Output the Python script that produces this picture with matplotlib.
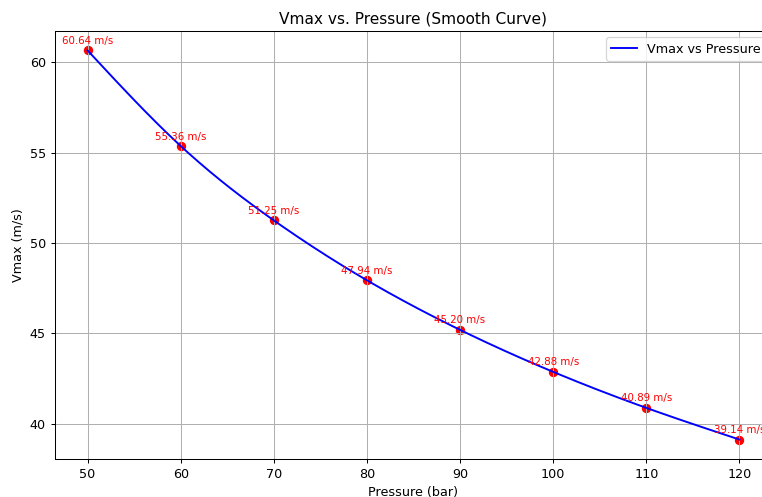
import matplotlib
matplotlib.use("Agg")
import matplotlib.pyplot as plt
import numpy as np

# 数据：压力 (bar) 与 Vmax (m/s)
pressure = [50, 60, 70, 80, 90, 100, 110, 120]
vmax = [60.64, 55.36, 51.25, 47.94, 45.20, 42.88, 40.89, 39.14]


def natural_spline(x, y, n=300):
    """自然三次样条，只用于画平滑曲线。"""
    x = np.asarray(x, dtype=float)
    y = np.asarray(y, dtype=float)
    m = len(x)
    h = np.diff(x)
    A = np.zeros((m, m))
    b = np.zeros(m)
    A[0, 0] = A[-1, -1] = 1.0
    for i in range(1, m - 1):
        A[i, i - 1] = h[i - 1]
        A[i, i] = 2 * (h[i - 1] + h[i])
        A[i, i + 1] = h[i]
        b[i] = 6 * ((y[i + 1] - y[i]) / h[i] - (y[i] - y[i - 1]) / h[i - 1])
    M = np.linalg.solve(A, b)
    xs = np.linspace(x[0], x[-1], n)
    idx = np.clip(np.searchsorted(x, xs) - 1, 0, m - 2)
    x0, x1 = x[idx], x[idx + 1]
    hh = x1 - x0
    t0, t1 = x1 - xs, xs - x0
    ys = (M[idx] * t0 ** 3 + M[idx + 1] * t1 ** 3) / (6 * hh) \
        + (y[idx] / hh - M[idx] * hh / 6) * t0 \
        + (y[idx + 1] / hh - M[idx + 1] * hh / 6) * t1
    return xs, ys


DPI = 92
fig = plt.figure(figsize=(763 / DPI, 497 / DPI), dpi=DPI)
ax = fig.add_axes([55 / 763, (497 - 459) / 497, (772 - 55) / 763, (459 - 31) / 497])

xs, ys = natural_spline(pressure, vmax)
ax.plot(xs, ys, color="blue", linewidth=1.5, label="Vmax vs Pressure")
ax.scatter(pressure, vmax, color="red", s=40)

for p, v in zip(pressure, vmax):
    ax.annotate(f"{v:.2f} m/s", (p, v), textcoords="offset points", xytext=(0, 5),
                ha="center", fontsize=8, color="red")

ax.set_xlim(46.5, 123.5)
ax.set_title("Vmax vs. Pressure (Smooth Curve)")
ax.set_xlabel("Pressure (bar)")
ax.set_ylabel("Vmax (m/s)")
ax.grid(True)
ax.legend(loc="upper right")

fig.savefig("out.png", dpi=DPI)
